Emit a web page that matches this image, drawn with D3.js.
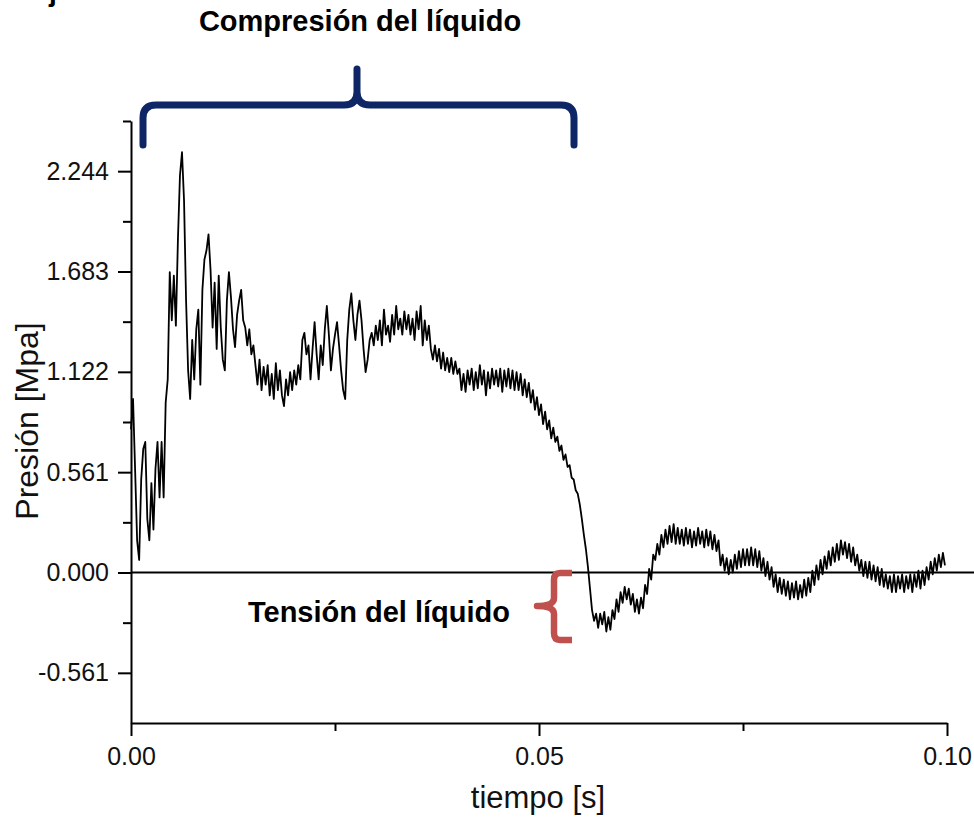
<!DOCTYPE html>
<html>
<head>
<meta charset="utf-8">
<script src="https://cdn.jsdelivr.net/npm/d3@7"></script>
<style>
  html, body { margin: 0; padding: 0; background: #ffffff; }
  svg { display: block; }
  text { font-family: "Liberation Sans", Arial, Helvetica, sans-serif; }
</style>
</head>
<body>
<svg id="chart" width="974" height="819"></svg>
<script>
// ---------------- DATA ----------------
const sampleInterval = 0.00025; // s between samples
// Pressure [MPa], one sample every 0.25 ms
const pressure0to25ms = [
  0.80, 0.97, 0.58, 0.18, 0.07, 0.52, 0.69, 0.73, 0.30, 0.18,
  0.50, 0.24, 0.58, 0.73, 0.42, 0.73, 0.42, 0.95, 1.08, 1.68,
  1.41, 1.66, 1.38, 1.86, 2.22, 2.35, 2.08, 1.52, 1.13, 0.97,
  1.30, 1.08, 1.36, 1.47, 1.05, 1.58, 1.75, 1.80, 1.89, 1.69,
  1.37, 1.62, 1.25, 1.66, 1.37, 1.19, 1.13, 1.52, 1.68, 1.54,
  1.36, 1.26, 1.44, 1.52, 1.58, 1.41, 1.37, 1.27, 1.36, 1.22,
  1.27, 1.16, 1.05, 1.19, 1.02, 1.15, 1.05, 1.16, 0.99, 1.11,
  0.97, 1.17, 1.02, 1.13, 0.99, 0.93, 1.08, 0.99, 1.12, 1.02,
  1.13, 1.05, 1.16, 1.08, 1.30, 1.34, 1.22, 1.27, 1.08, 1.25,
  1.40, 1.22, 1.08, 1.27, 1.16, 1.36, 1.49, 1.33, 1.13, 1.25
];
const pressure25to50ms = [
  1.33, 1.40, 1.27, 1.13, 1.02, 0.97, 1.30, 1.47, 1.56, 1.41,
  1.30, 1.44, 1.52, 1.41, 1.25, 1.12, 1.19, 1.30, 1.34, 1.27,
  1.38, 1.30, 1.41, 1.27, 1.47, 1.33, 1.38, 1.29, 1.44, 1.33,
  1.49, 1.36, 1.42, 1.33, 1.46, 1.36, 1.44, 1.33, 1.42, 1.30,
  1.46, 1.36, 1.49, 1.27, 1.41, 1.30, 1.38, 1.25, 1.19, 1.27,
  1.18, 1.25, 1.14, 1.23, 1.13, 1.20, 1.12, 1.20, 1.11, 1.18,
  1.11, 1.14, 1.02, 1.11, 1.01, 1.13, 1.05, 1.14, 1.02, 1.12,
  1.03, 1.16, 1.05, 1.13, 0.99, 1.12, 1.03, 1.14, 1.05, 1.13,
  1.04, 1.14, 1.01, 1.13, 1.04, 1.14, 1.03, 1.13, 1.02, 1.12,
  1.02, 1.11, 0.99, 1.08, 0.98, 1.06, 0.95, 1.02, 0.91, 0.98
];
const pressure50to75ms = [
  0.88, 0.94, 0.83, 0.90, 0.80, 0.85, 0.75, 0.81, 0.73, 0.76,
  0.68, 0.71, 0.63, 0.66, 0.59, 0.60, 0.53, 0.52, 0.46, 0.44,
  0.38, 0.30, 0.21, 0.13, 0.03, -0.09, -0.21, -0.27, -0.23, -0.31,
  -0.23, -0.29, -0.22, -0.33, -0.25, -0.32, -0.21, -0.26, -0.15, -0.22,
  -0.11, -0.17, -0.08, -0.15, -0.09, -0.18, -0.12, -0.22, -0.15, -0.23,
  -0.14, -0.20, -0.07, -0.12, 0.02, -0.04, 0.10, 0.07, 0.16, 0.10,
  0.21, 0.14, 0.24, 0.16, 0.26, 0.17, 0.27, 0.16, 0.25, 0.16,
  0.24, 0.15, 0.25, 0.16, 0.24, 0.14, 0.23, 0.15, 0.25, 0.16,
  0.23, 0.14, 0.24, 0.15, 0.23, 0.13, 0.21, 0.12, 0.18, 0.04,
  0.10, 0.01, 0.08, -0.01, 0.07, 0.00, 0.10, 0.02, 0.12, 0.03
];
const pressure75to100ms = [
  0.13, 0.04, 0.13, 0.04, 0.14, 0.04, 0.13, 0.03, 0.12, 0.01,
  0.08, -0.02, 0.06, -0.04, 0.03, -0.08, -0.01, -0.11, -0.03, -0.12,
  -0.04, -0.13, -0.05, -0.15, -0.06, -0.14, -0.05, -0.15, -0.07, -0.14,
  -0.04, -0.13, -0.03, -0.11, 0.01, -0.07, 0.04, -0.04, 0.07, -0.01,
  0.09, 0.02, 0.12, 0.04, 0.14, 0.06, 0.16, 0.07, 0.18, 0.10,
  0.17, 0.08, 0.16, 0.06, 0.14, 0.04, 0.10, 0.01, 0.07, -0.02,
  0.06, -0.03, 0.06, -0.04, 0.04, -0.05, 0.03, -0.07, 0.02, -0.08,
  -0.01, -0.09, -0.02, -0.11, -0.01, -0.11, -0.02, -0.09, -0.01, -0.11,
  -0.02, -0.09, -0.01, -0.11, -0.01, -0.08, 0.01, -0.09, 0.01, -0.07,
  0.03, -0.04, 0.06, -0.01, 0.08, 0.01, 0.10, 0.03, 0.11, 0.04
];

const xDomain = [0, 0.1];
const xMajorTicks = [0, 0.05, 0.1];
const xTickLabels = ["0.00", "0.05", "0.10"];
const xMinorTicks = [0.025, 0.075];

const yDomain = [-0.8415, 2.5245];
const yMajorTicks = [-0.561, 0, 0.561, 1.122, 1.683, 2.244];
const yTickLabels = ["-0.561", "0.000", "0.561", "1.122", "1.683", "2.244"];
const yMinorTicks = [-0.2805, 0.2805, 0.8415, 1.4025, 1.9635, 2.5245];

const titleText = "Compresión del líquido";
const tensionText = "Tensión del líquido";
const xLabel = "tiempo [s]";
const yLabel = "Presión [Mpa]";

// ---------------- CHART ----------------
const pressure = [].concat(pressure0to25ms, pressure25to50ms, pressure50to75ms, pressure75to100ms);
const series = pressure.map((v, i) => ({ t: i * sampleInterval, p: v }));

const svg = d3.select("#chart");
const font = '"Liberation Sans", Arial, Helvetica, sans-serif';

const x = d3.scaleLinear().domain(xDomain).range([131, 947]);
const y = d3.scaleLinear().domain(yDomain).range([723, 121]);

// signal line
const line = d3.line().x(d => x(d.t)).y(d => y(d.p));
svg.append("path")
  .datum(series)
  .attr("fill", "none")
  .attr("stroke", "#000")
  .attr("stroke-width", 1.8)
  .attr("stroke-linejoin", "round")
  .attr("d", line);

// zero line
svg.append("line")
  .attr("x1", x(0)).attr("x2", 974)
  .attr("y1", y(0)).attr("y2", y(0))
  .attr("stroke", "#000").attr("stroke-width", 2);

// Y axis (major)
const yAxis = d3.axisLeft(y)
  .tickValues(yMajorTicks)
  .tickFormat((d, i) => yTickLabels[i])
  .tickSize(13).tickSizeOuter(0).tickPadding(9);
const gy = svg.append("g").attr("transform", `translate(${x(0)},0)`).call(yAxis);
gy.select(".domain").attr("stroke", "#000").attr("stroke-width", 2);
gy.selectAll(".tick line").attr("stroke", "#000").attr("stroke-width", 2);
gy.selectAll(".tick text").attr("font-family", font).attr("font-size", 25).attr("fill", "#111");

// Y axis minor
const yMinor = d3.axisLeft(y).tickValues(yMinorTicks).tickFormat("").tickSize(8).tickSizeOuter(0);
const gym = svg.append("g").attr("transform", `translate(${x(0)},0)`).call(yMinor);
gym.select(".domain").remove();
gym.selectAll(".tick line").attr("stroke", "#000").attr("stroke-width", 2);

// X axis (major)
const xAxis = d3.axisBottom(x)
  .tickValues(xMajorTicks)
  .tickFormat((d, i) => xTickLabels[i])
  .tickSize(13).tickSizeOuter(0).tickPadding(11);
const gx = svg.append("g").attr("transform", `translate(0,${y(yDomain[0])})`).call(xAxis);
gx.select(".domain").attr("stroke", "#000").attr("stroke-width", 2);
gx.selectAll(".tick line").attr("stroke", "#000").attr("stroke-width", 2);
gx.selectAll(".tick text").attr("font-family", font).attr("font-size", 25).attr("fill", "#111");

const xMinor = d3.axisBottom(x).tickValues(xMinorTicks).tickFormat("").tickSize(8).tickSizeOuter(0);
const gxm = svg.append("g").attr("transform", `translate(0,${y(yDomain[0])})`).call(xMinor);
gxm.select(".domain").remove();
gxm.selectAll(".tick line").attr("stroke", "#000").attr("stroke-width", 2);

// axis titles
svg.append("text")
  .attr("x", 538).attr("y", 808)
  .attr("text-anchor", "middle")
  .attr("font-family", font).attr("font-size", 31).attr("fill", "#111")
  .text(xLabel);

svg.append("text")
  .attr("transform", "translate(38,421) rotate(-90)")
  .attr("text-anchor", "middle")
  .attr("font-family", font).attr("font-size", 32).attr("fill", "#111")
  .text(yLabel);

// annotations
svg.append("text")
  .attr("x", 49).attr("y", 1)
  .attr("font-family", font).attr("font-size", 28).attr("font-weight", "bold").attr("fill", "#000")
  .text("j");

svg.append("text")
  .attr("x", 360).attr("y", 31)
  .attr("text-anchor", "middle")
  .attr("font-family", font).attr("font-size", 29).attr("font-weight", "bold").attr("fill", "#000")
  .text(titleText);

svg.append("text")
  .attr("x", 510).attr("y", 622)
  .attr("text-anchor", "end")
  .attr("font-family", font).attr("font-size", 29).attr("font-weight", "bold").attr("fill", "#000")
  .text(tensionText);

// blue brace (compression)
svg.append("path")
  .attr("d", "M143,145 L143,118 Q143,105 156,105 L344,105 Q357,105 357,92 L357,69 M357,92 Q357,105 370,105 L561,105 Q574,105 574,118 L574,145")
  .attr("fill", "none")
  .attr("stroke", "#0e2566")
  .attr("stroke-width", 7)
  .attr("stroke-linejoin", "round")
  .attr("stroke-linecap", "round");

// red brace (tension)
svg.append("path")
  .attr("d", "M572,573 L560,573 Q554,573 554,580 L554,598 Q554,606 537,606 Q554,606 554,614 L554,633 Q554,640 560,640 L572,640")
  .attr("fill", "none")
  .attr("stroke", "#c0504d")
  .attr("stroke-width", 6.5)
  .attr("stroke-linejoin", "round");
</script>
</body>
</html>
